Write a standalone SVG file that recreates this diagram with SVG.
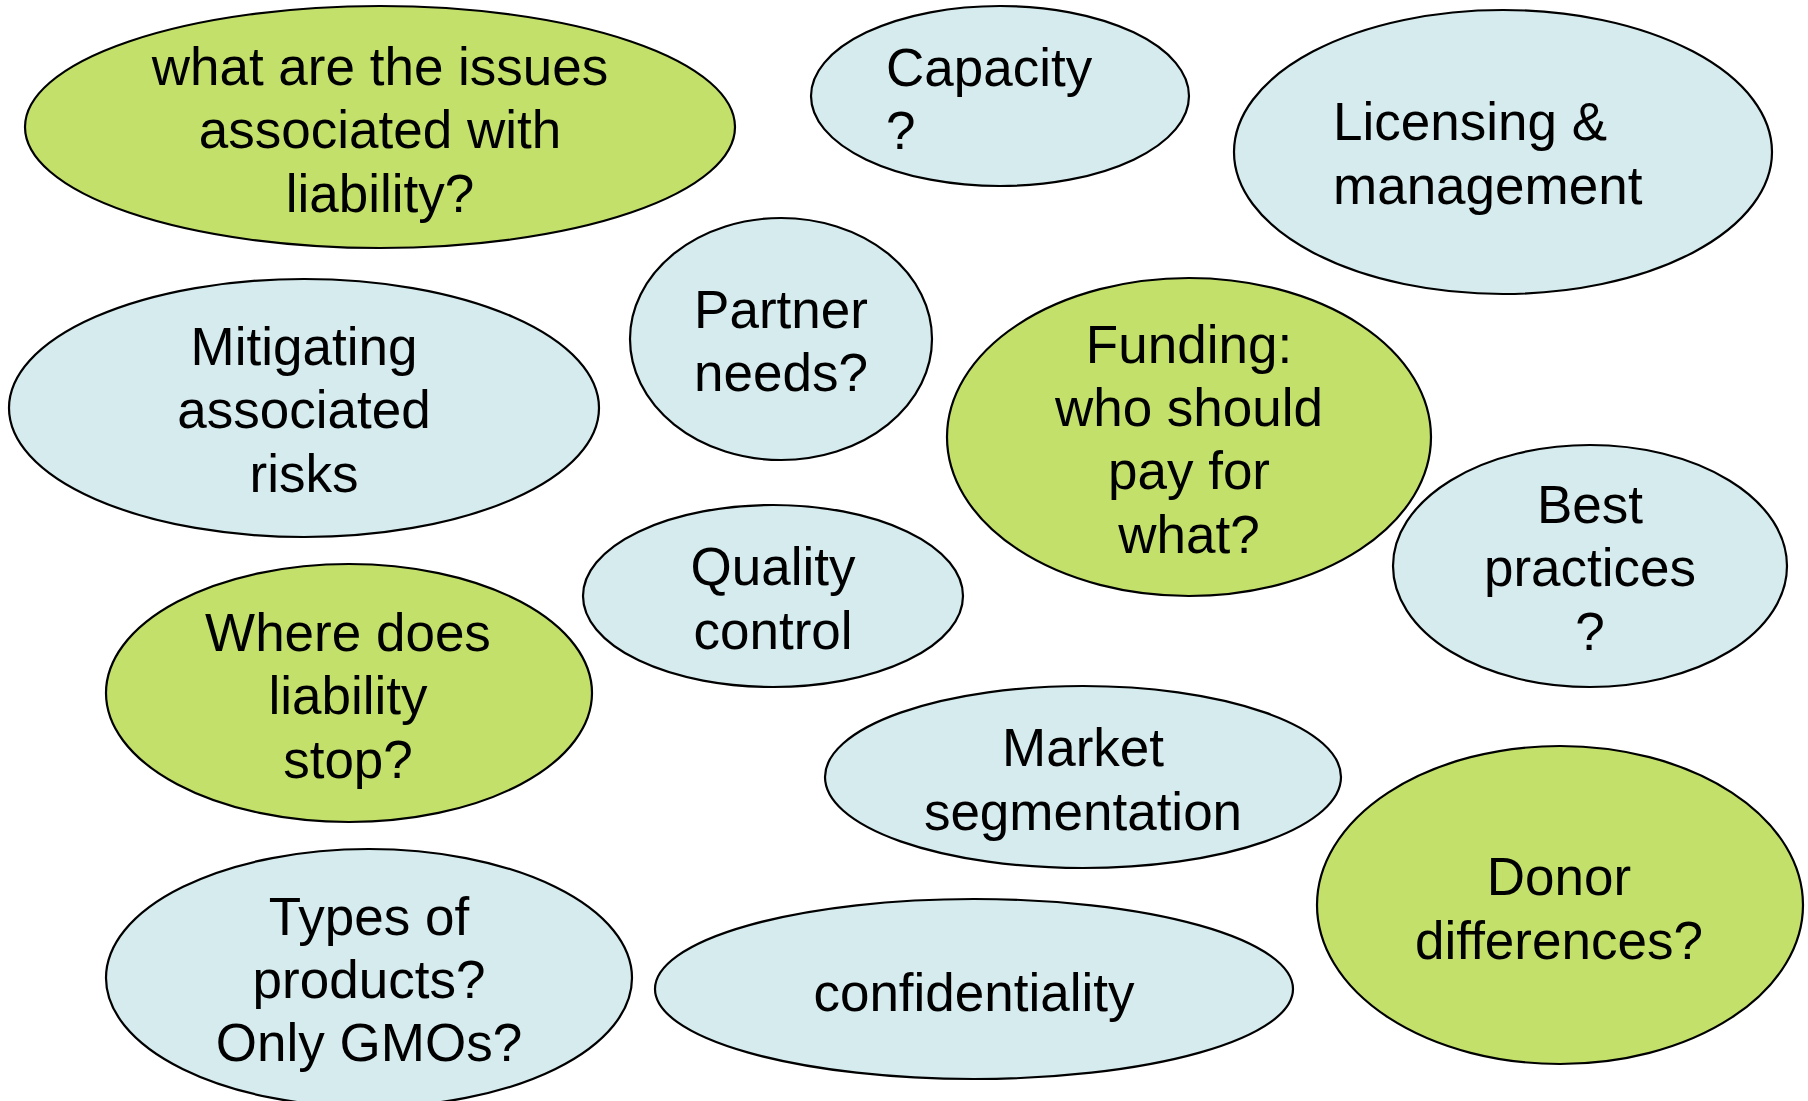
<svg xmlns="http://www.w3.org/2000/svg" width="1808" height="1101" viewBox="0 0 1808 1101">
<style>
.g{fill:#C3E06B;stroke:#000;stroke-width:2.2}
.b{fill:#D6EBEE;stroke:#000;stroke-width:2.2}
text{font-family:"Liberation Sans",Arial,sans-serif;font-size:53px;fill:#000;text-anchor:middle}
.l{text-anchor:start}
</style>
<rect width="1808" height="1101" fill="#fff"/>
<g id="connectors"></g>
<g id="n1"><ellipse class="g" cx="380" cy="127" rx="355" ry="121"/><text x="380" y="85">what are the issues</text><text x="380" y="148">associated with</text><text x="380" y="212">liability?</text></g>
<g id="n2"><ellipse class="b" cx="1000" cy="96" rx="189" ry="90"/><text class="l" x="886" y="86">Capacity</text><text class="l" x="886" y="149">?</text></g>
<g id="n3"><ellipse class="b" cx="1503" cy="152" rx="269" ry="142"/><text class="l" x="1333" y="140">Licensing &amp;</text><text class="l" x="1333" y="204">management</text></g>
<g id="n4"><ellipse class="b" cx="304" cy="408" rx="295" ry="129"/><text x="304" y="365">Mitigating</text><text x="304" y="428">associated</text><text x="304" y="492">risks</text></g>
<g id="n5"><ellipse class="b" cx="781" cy="339" rx="151" ry="121"/><text x="781" y="328">Partner</text><text x="781" y="391">needs?</text></g>
<g id="n6"><ellipse class="g" cx="1189" cy="437" rx="242" ry="159"/><text x="1189" y="363">Funding:</text><text x="1189" y="426">who should</text><text x="1189" y="489">pay for</text><text x="1189" y="553">what?</text></g>
<g id="n7"><ellipse class="b" cx="1590" cy="566" rx="197" ry="121"/><text x="1590" y="523">Best</text><text x="1590" y="586">practices</text><text x="1590" y="650">?</text></g>
<g id="n8"><ellipse class="b" cx="773" cy="596" rx="190" ry="91"/><text x="773" y="585">Quality</text><text x="773" y="649">control</text></g>
<g id="n9"><ellipse class="g" cx="349" cy="693" rx="243" ry="129"/><text x="348" y="651">Where does</text><text x="348" y="714">liability</text><text x="348" y="778">stop?</text></g>
<g id="n10"><ellipse class="b" cx="1083" cy="777" rx="258" ry="91"/><text x="1083" y="766">Market</text><text x="1083" y="830">segmentation</text></g>
<g id="n11"><ellipse class="g" cx="1560" cy="905" rx="243" ry="159"/><text x="1559" y="895">Donor</text><text x="1559" y="959">differences?</text></g>
<g id="n12"><ellipse class="b" cx="369" cy="978" rx="263" ry="129"/><text x="369" y="935">Types of</text><text x="369" y="998">products?</text><text x="369" y="1061">Only GMOs?</text></g>
<g id="n13"><ellipse class="b" cx="974" cy="989" rx="319" ry="90"/><text x="974" y="1011">confidentiality</text></g>
</svg>
